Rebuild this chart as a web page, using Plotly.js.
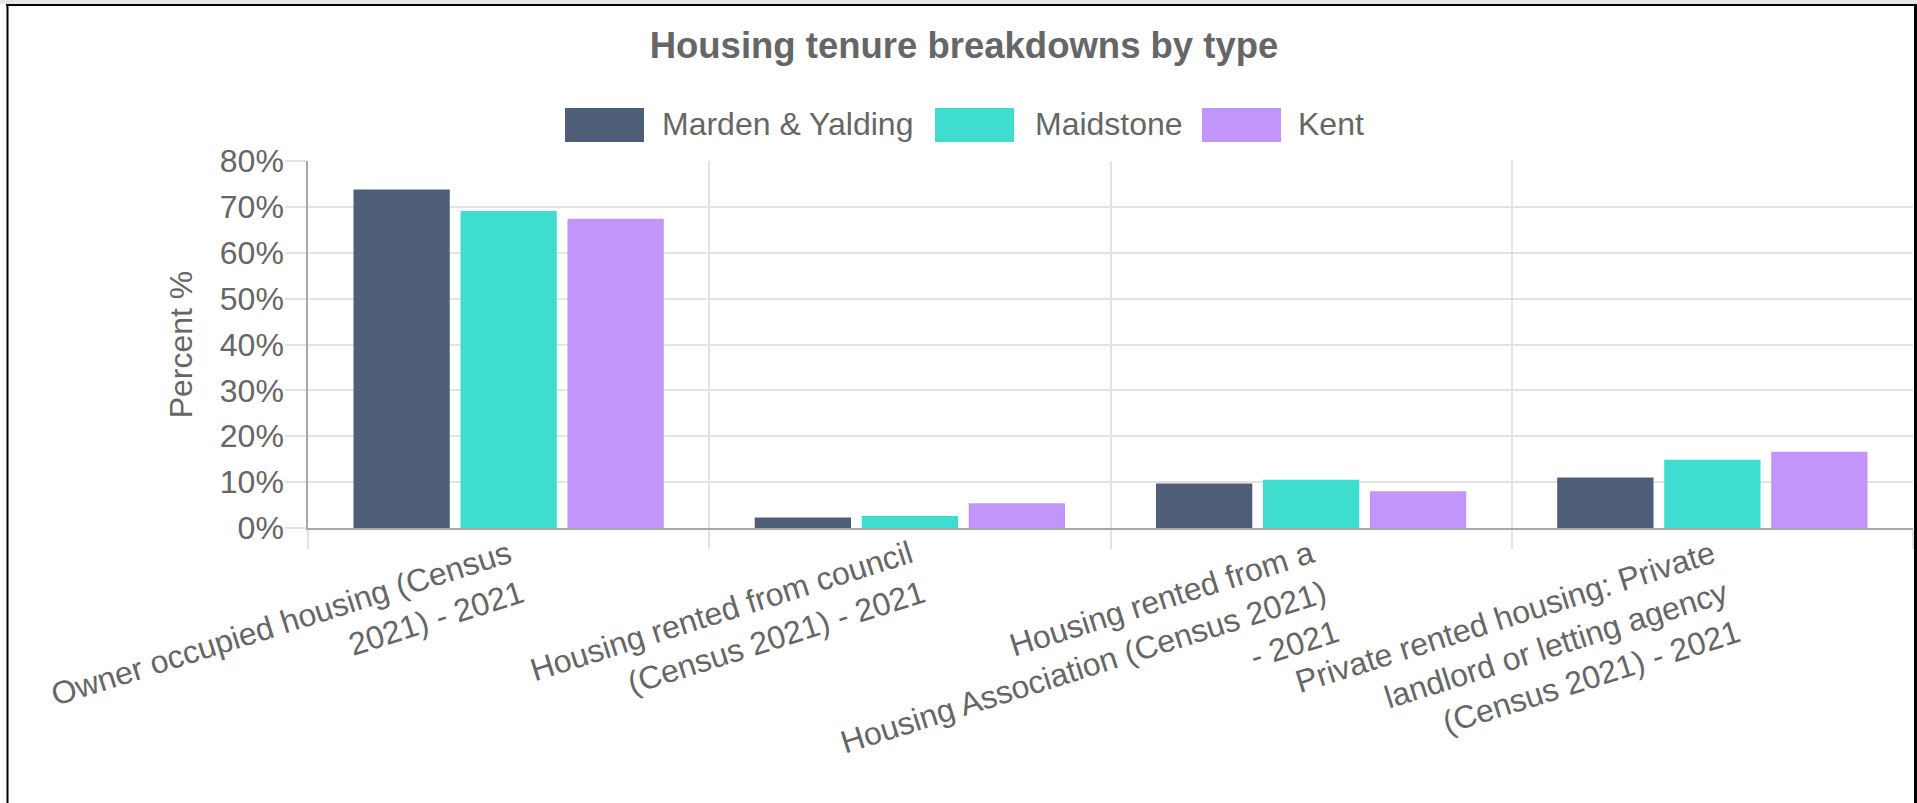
<!DOCTYPE html>
<html>
<head>
<meta charset="utf-8">
<script src="https://cdn.plot.ly/plotly-3.0.1.min.js"></script>
<style>
  html, body { margin: 0; padding: 0; background: #fff; }
  #chart { width: 1917px; height: 803px; }
</style>
</head>
<body>
<div id="chart"></div>
<script>
// Tenure categories (wrapped as in the original chart)
const categories = [
  'Owner occupied housing (Census<br>2021) - 2021',
  'Housing rented from council<br>(Census 2021) - 2021',
  'Housing rented from a<br>Housing Association (Census 2021)<br>- 2021',
  'Private rented housing: Private<br>landlord or letting agency<br>(Census 2021) - 2021'
];

const seriesNames = ['Marden & Yalding', 'Maidstone', 'Kent'];
const seriesColors = ['#4f5e78', '#3fddd0', '#c295fa'];

// Percent of households
const mardenYalding = [73.8, 2.3, 9.7, 11.0];
const maidstone = [69.1, 2.6, 10.5, 14.9];
const kent = [67.4, 5.4, 8.0, 16.6];

const seriesValues = [mardenYalding, maidstone, kent];

const FONT = '"Liberation Sans", Arial, Helvetica, sans-serif';
const GREY = '#666666';

// plot box in pixels
const W = 1917, H = 803;
const margin = { l: 308, r: 4, t: 161, b: 275 };
const plotW = W - margin.l - margin.r;
const plotH = H - margin.t - margin.b;
const px = x => (x - margin.l) / plotW;
const py = y => (H - margin.b - y) / plotH;

let data = seriesNames.map((name, i) => ({
  type: 'bar',
  name: name,
  x: categories,
  y: seriesValues[i],
  marker: { color: seriesColors[i] },
  hovertemplate: '%{y}%<extra>' + name + '</extra>'
}));

// hand-drawn legend: big colour boxes like the original
const legendBoxX = [565, 935, 1202];
const legendTextX = [660, 1033, 1296];
let shapes = [];
let annotations = [];
seriesNames.forEach((name, i) => {
  shapes.push({
    type: 'rect', xref: 'paper', yref: 'paper',
    x0: px(legendBoxX[i]), x1: px(legendBoxX[i] + 79),
    y0: py(142), y1: py(108),
    fillcolor: seriesColors[i], line: { width: 0 }
  });
  annotations.push({
    xref: 'paper', yref: 'paper',
    x: px(legendTextX[i]), y: py(124),
    xanchor: 'left', yanchor: 'middle',
    text: name, showarrow: false,
    font: { family: FONT, size: 32, color: GREY }
  });
});

// frame round the chart
shapes.push(
  { type: 'rect', xref: 'paper', yref: 'paper', x0: px(0), x1: px(W), y0: py(0), y1: py(4),
    fillcolor: '#e6e6e6', line: { width: 0 } },
  { type: 'line', xref: 'paper', yref: 'paper', x0: px(6), x1: px(W), y0: py(5), y1: py(5),
    line: { color: '#000', width: 2 } },
  { type: 'line', xref: 'paper', yref: 'paper', x0: px(7.5), x1: px(7.5), y0: py(5), y1: py(H),
    line: { color: '#000', width: 2 } },
  { type: 'line', xref: 'paper', yref: 'paper', x0: px(1915.5), x1: px(1915.5), y0: py(5), y1: py(H),
    line: { color: '#000', width: 3 } }
);

let layout = {
  width: W,
  height: H,
  margin: margin,
  paper_bgcolor: '#ffffff',
  plot_bgcolor: '#ffffff',
  font: { family: FONT, size: 32, color: GREY },
  title: {
    text: '<b>Housing tenure breakdowns by type</b>',
    font: { family: FONT, size: 36.5, color: '#666666' },
    xref: 'container', yref: 'container',
    x: 964 / W, y: 1 - 45 / H,
    xanchor: 'center', yanchor: 'middle'
  },
  showlegend: false,
  barmode: 'group',
  bargap: 0.2,
  bargroupgap: 0.1,
  xaxis: {
    type: 'category',
    tickson: 'boundaries',
    ticks: 'outside',
    ticklen: 19,
    tickcolor: '#e3e3e3',
    tickwidth: 1.5,
    tickangle: -17.5,
    ticklabelstandoff: -6,
    tickfont: { family: FONT, size: 32, color: GREY },
    showgrid: true,
    gridcolor: '#e3e3e3',
    gridwidth: 1.5,
    showline: true,
    linecolor: '#a8a8a8',
    linewidth: 2,
    automargin: false
  },
  yaxis: {
    range: [0, 80],
    dtick: 10,
    ticksuffix: '%',
    ticks: 'outside',
    ticklen: 21,
    tickcolor: '#e3e3e3',
    tickwidth: 1.5,
    ticklabelstandoff: -5,
    tickfont: { family: FONT, size: 32, color: GREY },
    showgrid: true,
    gridcolor: '#e3e3e3',
    gridwidth: 1.5,
    zeroline: false,
    showline: true,
    linecolor: '#a8a8a8',
    linewidth: 1.5,
    automargin: false,
    title: {
      text: 'Percent %',
      font: { family: FONT, size: 32, color: GREY },
      standoff: 18
    }
  },
  shapes: shapes,
  annotations: annotations
};

Plotly.newPlot('chart', data, layout, { displayModeBar: false, responsive: false });
</script>
</body>
</html>
